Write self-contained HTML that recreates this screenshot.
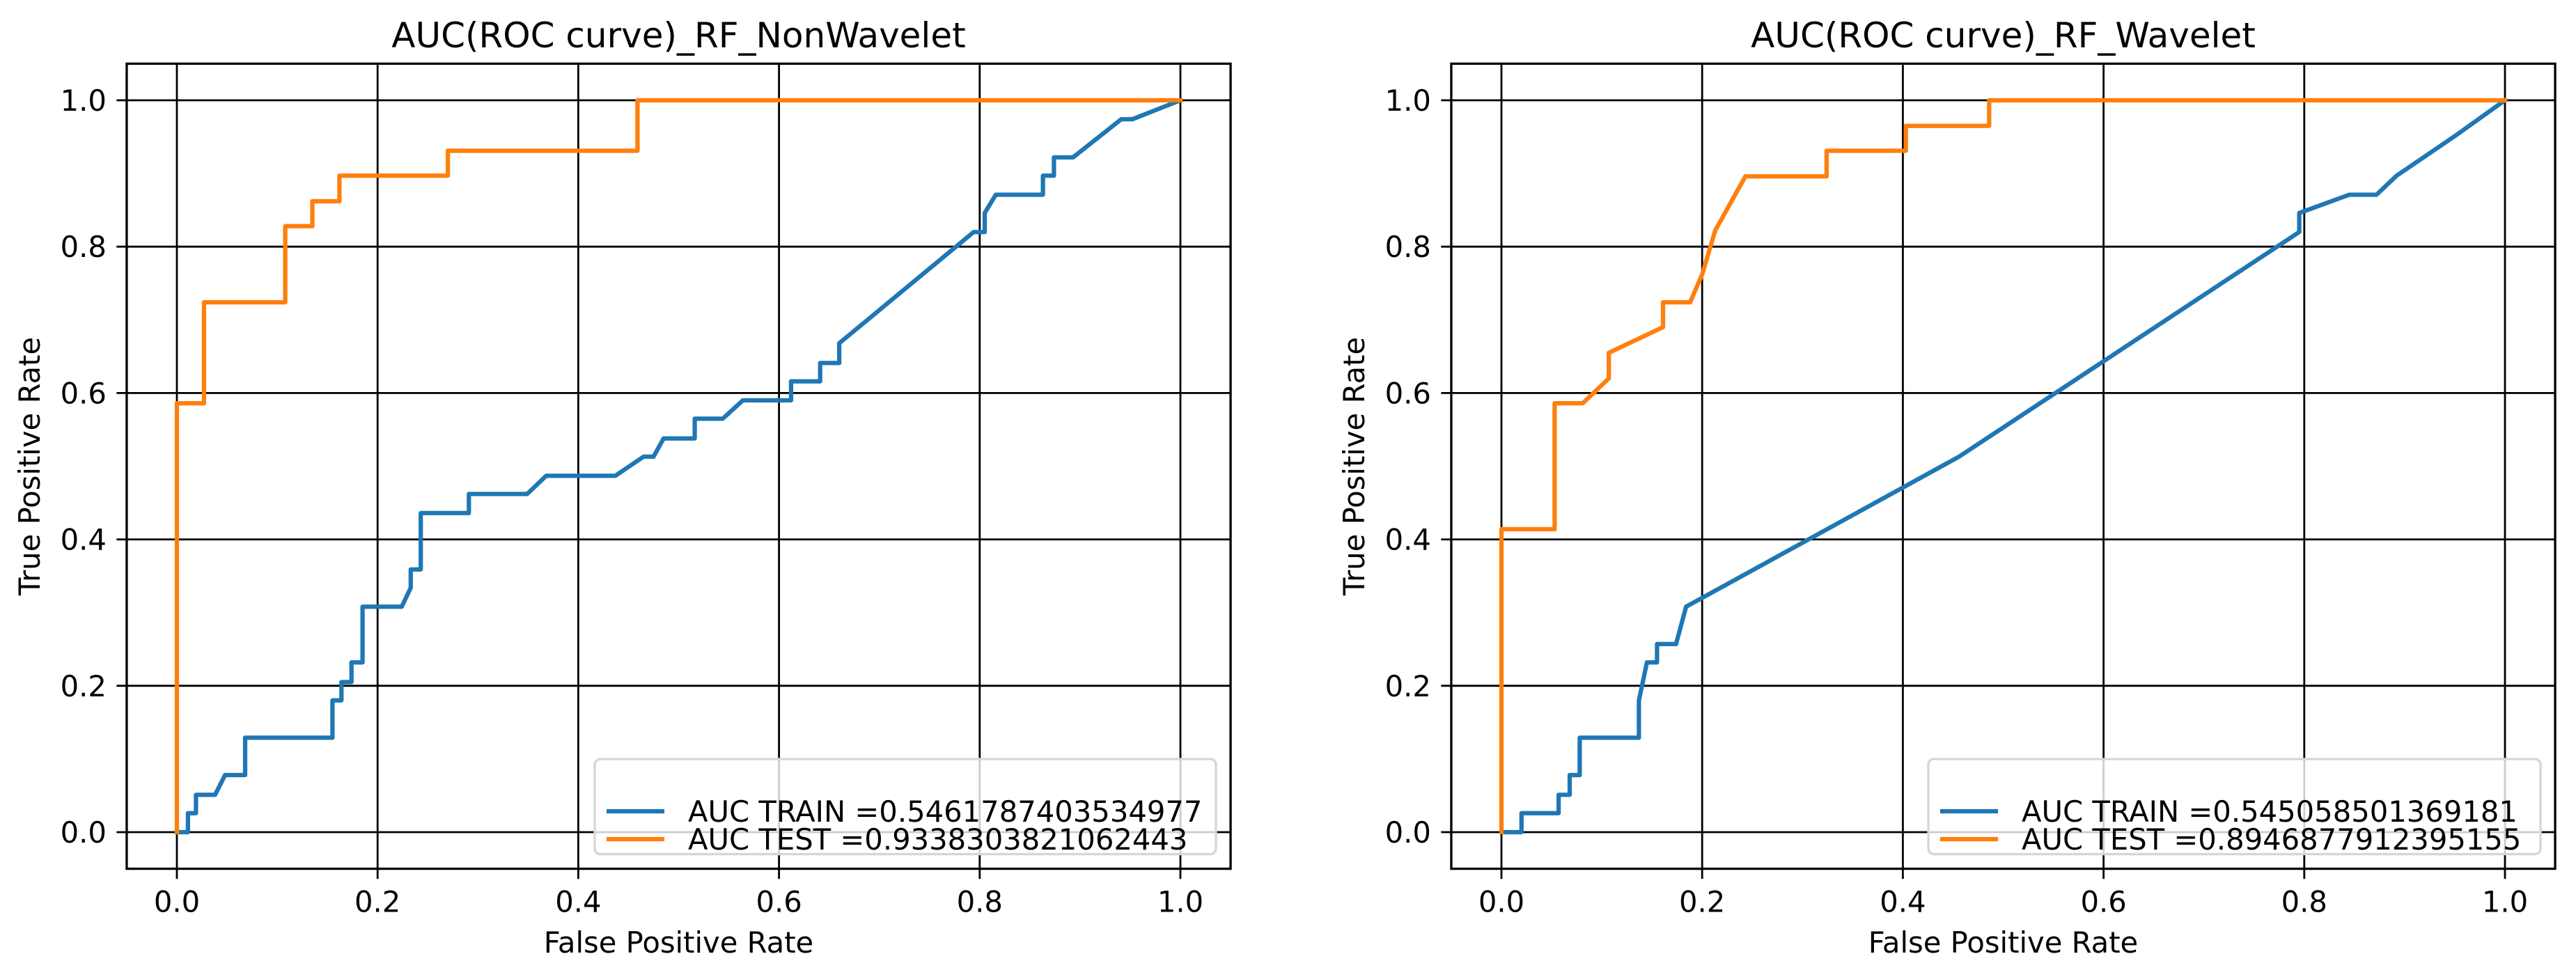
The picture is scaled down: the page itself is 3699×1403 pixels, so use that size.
<!DOCTYPE html>
<html><head><meta charset="utf-8"><style>
html,body{margin:0;padding:0;background:#fff}
svg{display:block}
text{font-family:"DejaVu Sans","Liberation Sans",sans-serif;fill:#000}
</style></head><body>
<svg id="fig" width="3699" height="1403" viewBox="0 0 3699 1403" xmlns="http://www.w3.org/2000/svg"></svg>
<script>
const tickValues = [0, 0.2, 0.4, 0.6, 0.8, 1.0];
const tickLabels = ["0.0", "0.2", "0.4", "0.6", "0.8", "1.0"];
const leftTitle = "AUC(ROC curve)_RF_NonWavelet";
const rightTitle = "AUC(ROC curve)_RF_Wavelet";
const leftLegend = ["AUC TRAIN =0.5461787403534977", "AUC TEST =0.9338303821062443"];
const rightLegend = ["AUC TRAIN =0.545058501369181", "AUC TEST =0.8946877912395155"];

const leftTrainX = [0,0.011,0.011,0.019,0.019,0.038,0.048,0.068,0.068,0.155,0.155,0.164,0.164,0.174,0.174,0.185,0.185,0.224,0.233,0.233,0.243,0.243,0.291,0.291,0.349,0.368,0.437,0.465,0.475,0.485,0.516,0.516,0.544,0.564,0.612,0.612,0.641,0.641,0.660,0.660,0.794,0.805,0.805,0.816,0.863,0.863,0.874,0.874,0.893,0.941,0.952,1];
const leftTrainY = [0,0,0.026,0.026,0.051,0.051,0.078,0.078,0.129,0.129,0.18,0.18,0.205,0.205,0.232,0.232,0.308,0.308,0.334,0.359,0.359,0.436,0.436,0.462,0.462,0.487,0.487,0.513,0.513,0.538,0.538,0.565,0.565,0.590,0.590,0.616,0.616,0.641,0.641,0.668,0.820,0.820,0.846,0.871,0.871,0.897,0.897,0.922,0.922,0.974,0.974,1];
const leftTestX = [0,0,0.027,0.027,0.108,0.108,0.135,0.135,0.162,0.162,0.27,0.27,0.459,0.459,1];
const leftTestY = [0,0.586,0.586,0.724,0.724,0.828,0.828,0.862,0.862,0.897,0.897,0.931,0.931,1,1];

const rightTrainX = [0,0.02,0.02,0.057,0.057,0.068,0.068,0.078,0.078,0.137,0.137,0.145,0.155,0.155,0.174,0.184,0.456,0.795,0.795,0.845,0.872,0.892,0.951,1];
const rightTrainY = [0,0,0.026,0.026,0.051,0.051,0.078,0.078,0.129,0.129,0.18,0.232,0.232,0.257,0.257,0.308,0.513,0.820,0.846,0.871,0.871,0.897,0.952,1];
const rightTestX = [0,0,0.053,0.053,0.081,0.107,0.107,0.161,0.161,0.188,0.2,0.213,0.243,0.324,0.324,0.403,0.403,0.486,0.486,1];
const rightTestY = [0,0.414,0.414,0.586,0.586,0.620,0.655,0.690,0.724,0.724,0.762,0.822,0.896,0.896,0.931,0.931,0.965,0.965,1,1];

const NS = "http://www.w3.org/2000/svg";
const svg = document.getElementById("fig");
function mk(tag, attrs, parent){
  const e = document.createElementNS(NS, tag);
  for (const k in attrs) e.setAttribute(k, attrs[k]);
  (parent||svg).appendChild(e);
  return e;
}
function panel(id, x0, x1, title, legend, trX, trY, teX, teY, legLeft){
  const y0 = 1195, y1 = 144;
  const sx = v => x0 + v*(x1-x0);
  const sy = v => y0 + v*(y1-y0);
  const fl = sx(-0.05), fr = sx(1.05), ft = sy(1.05), fb = sy(-0.05);
  const g = mk("g", {});
  
  
  const t = mk("text", {x:(fl+fr)/2, y:68, "font-size":50, "text-anchor":"middle"}, g);
  t.textContent = title;
  
  
  tickValues.forEach((v,i)=>{
    const gx = mk("line", {x1:sx(v), x2:sx(v), y1:ft, y2:fb+14.6, stroke:"#000", "stroke-width":2.8}, g);
    
    
    const gy = mk("line", {x1:fl-14.6, x2:fr, y1:sy(v), y2:sy(v), stroke:"#000", "stroke-width":2.8}, g);
    
    
    const tx = mk("text", {x:sx(v), y:fb+62, "font-size":41.7, "text-anchor":"middle"}, g);
    tx.textContent = tickLabels[i];
    
    
    const ty = mk("text", {x:fl-29, y:sy(v)+15, "font-size":41.7, "text-anchor":"end"}, g);
    ty.textContent = tickLabels[i];
    
    
  });
  const xl = mk("text", {x:(fl+fr)/2, y:1368, "font-size":41.7, "text-anchor":"middle"}, g);
  xl.textContent = "False Positive Rate";
  
  
  const ylx = fl - 125;
  const yl = mk("text", {x:ylx, y:(ft+fb)/2, "font-size":41.7, "text-anchor":"middle", transform:`rotate(-90 ${ylx} ${(ft+fb)/2})`}, g);
  yl.textContent = "True Positive Rate";
  
  
  const pts = (X,Y)=>X.map((v,i)=>sx(v).toFixed(1)+","+sy(Y[i]).toFixed(1)).join(" ");
  const l1 = mk("polyline", {points:pts(trX,trY), fill:"none", stroke:"#1f77b4", "stroke-width":6.25, "stroke-linejoin":"round", "stroke-linecap":"square"}, g);
  
  
  const l2 = mk("polyline", {points:pts(teX,teY), fill:"none", stroke:"#ff7f0e", "stroke-width":6.25, "stroke-linejoin":"round", "stroke-linecap":"square"}, g);
  
  
  const fr_ = mk("rect", {x:fl, y:ft, width:fr-fl, height:fb-ft, fill:"none", stroke:"#000", "stroke-width":3.3}, g);
  
  
  const lr = fr - 21, lb = fb - 21, lt = 1090;
  const lg = mk("g", {}, g);
  
  
  mk("rect", {x:legLeft, y:lt, width:lr-legLeft, height:lb-lt, rx:8, fill:"rgba(255,255,255,0.8)", stroke:"#d6d6d6", "stroke-width":3.3}, lg);
  const cols = ["#1f77b4", "#ff7f0e"];
  const rows = [1165, 1205];
  legend.forEach((s,i)=>{
    const e = mk("g", {}, lg);
    
    
    mk("line", {x1:legLeft+17, x2:legLeft+100, y1:rows[i], y2:rows[i], stroke:cols[i], "stroke-width":6.25}, e);
    const tt = mk("text", {x:legLeft+134, y:rows[i]+15, "font-size":41.7}, e);
    tt.textContent = s;
  });
}
panel("left", 254, 1695, leftTitle, leftLegend, leftTrainX, leftTrainY, leftTestX, leftTestY, 854);
panel("right", 2156, 3597, rightTitle, rightLegend, rightTrainX, rightTrainY, rightTestX, rightTestY, 2769);
</script>
</body></html>
